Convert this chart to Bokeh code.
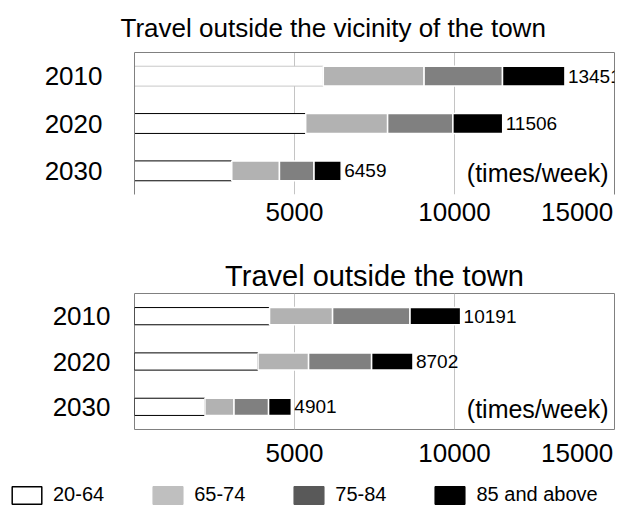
from bokeh.plotting import figure
from bokeh.models import (ColumnDataSource, FactorRange, Range1d, LinearAxis, CategoricalAxis,
                          Label, LabelSet, Legend, LegendItem, FixedTicker)
from bokeh.core.properties import value
from bokeh.layouts import column
from bokeh.transform import stack
from bokeh.embed import file_html
from bokeh.resources import INLINE

# ---------------- data ----------------
years = ["2010", "2020", "2030"]
age_groups = ["20-64", "65-74", "75-84", "85 and above"]

vicinity_20_64 = [5900, 5350, 3040]
vicinity_65_74 = [3150, 2560, 1490]
vicinity_75_84 = [2450, 2040, 1080]
vicinity_85_up = [1951, 1556, 849]
vicinity_total = [13451, 11506, 6459]

town_20_64 = [4220, 3860, 2200]
town_65_74 = [1970, 1580, 910]
town_75_84 = [2420, 1970, 1080]
town_85_up = [1581, 1292, 711]
town_total = [10191, 8702, 4901]

x_ticks = [5000, 10000, 15000]
x_max = 15000
unit_text = "(times/week)"

FONT = "Liberation Sans"
BAR_FILLS = ["#ffffff", "#b2b2b2", "#808080", "#000000"]
LEGEND_FILLS = ["#ffffff", "#bfbfbf", "#595959", "#000000"]
FRAME = "#808080"
GRID = "#c4c4c4"
NBSP = "\u00a0"
W = 620


def build(title, layers, totals, white_edges, height, mb_top, mb_bottom, mb_left, mb_right,
          bar_h, boxed, tick_standoff, year_standoff, title_align, title_offset, title_standoff,
          title_size):
    keys = ["a", "b", "c", "d"]
    data = dict(year=years, total=totals, label=[str(t) for t in totals], edge=white_edges)
    for k, v in zip(keys, layers):
        data[k] = v
    src = ColumnDataSource(data)

    p = figure(width=W, height=height, title=title,
               y_range=FactorRange(factors=years[::-1]), x_range=Range1d(0, x_max),
               output_backend="svg", toolbar_location=None,
               min_border_top=mb_top, min_border_bottom=mb_bottom,
               min_border_left=mb_left, min_border_right=mb_right)
    p.title.text_font = FONT
    p.title.text_font_size = title_size
    p.title.text_font_style = "normal"
    p.title.text_color = "black"
    p.title.align = title_align
    p.title.offset = title_offset
    p.title.standoff = title_standoff

    for i, k in enumerate(keys):
        left = stack(*keys[:i]) if i else 0
        if i == 0:
            p.hbar(y="year", left=left, right=stack(*keys[:i + 1]), height=bar_h, source=src,
                   fill_color=BAR_FILLS[i], line_color="edge", line_width=1)
        else:
            p.hbar(y="year", left=left, right=stack(*keys[:i + 1]), height=bar_h, source=src,
                   fill_color=BAR_FILLS[i], line_color="white", line_width=1.5)

    p.add_layout(LabelSet(x="total", y="year", text="label", source=src, x_offset=3,
                          text_baseline="middle", text_align="left", text_font=value(FONT),
                          text_font_size="19px", text_color="black"))

    xa = p.xaxis[0]
    xa.ticker = FixedTicker(ticks=x_ticks)
    # last label is kept inside the right edge, as in the original
    xa.major_label_overrides = {x_max: str(x_max) + NBSP}
    xa.major_tick_line_color = None
    xa.major_tick_out = 0
    xa.major_tick_in = 0
    xa.minor_tick_line_color = None
    xa.major_label_text_font = FONT
    xa.major_label_text_font_size = "26px"
    xa.major_label_text_color = "black"
    xa.major_label_standoff = tick_standoff
    xa.axis_line_color = None

    ya = p.yaxis[0]
    ya.major_tick_line_color = None
    ya.major_tick_out = 0
    ya.major_tick_in = 0
    ya.major_label_text_font = FONT
    ya.major_label_text_font_size = "26px"
    ya.major_label_text_color = "black"
    ya.major_label_standoff = year_standoff
    ya.axis_line_color = FRAME if not boxed else None

    p.xgrid.ticker = FixedTicker(ticks=x_ticks)
    p.xgrid.grid_line_color = GRID
    p.ygrid.grid_line_color = None

    if boxed:
        p.outline_line_color = FRAME
        p.outline_line_alpha = 1.0
    else:
        p.outline_line_color = None
        top = LinearAxis(ticker=FixedTicker(ticks=[]), axis_line_color=FRAME,
                         major_tick_line_color=None, minor_tick_line_color=None,
                         major_tick_out=0, major_tick_in=0,
                         major_label_text_font_size="0px", major_label_standoff=0)
        p.add_layout(top, "above")
        right = CategoricalAxis(axis_line_color=FRAME, major_tick_line_color=None,
                                major_tick_out=0, major_tick_in=0,
                                major_label_text_font_size="0px", major_label_standoff=0,
                                major_label_text_color=None)
        p.add_layout(right, "right")

    p.add_layout(Label(x=x_max, y=0.5, text=unit_text, text_align="right", text_baseline="middle",
                       x_offset=-6, y_offset=-2, text_font=FONT, text_font_size="25px",
                       text_color="black"))
    return p


p1 = build("Travel outside the vicinity of the town",
           [vicinity_20_64, vicinity_65_74, vicinity_75_84, vicinity_85_up], vicinity_total,
           ["#c8c8c8", "#000000", "#000000"],
           height=245, mb_top=52, mb_bottom=51, mb_left=134, mb_right=6,
           bar_h=0.42, boxed=False, tick_standoff=2, year_standoff=32,
           title_align="left", title_offset=-14, title_standoff=19, title_size="26px")

p2 = build("Travel outside the town",
           [town_20_64, town_65_74, town_75_84, town_85_up], town_total,
           ["#000000", "#000000", "#000000"],
           height=225, mb_top=48, mb_bottom=39, mb_left=134, mb_right=6,
           bar_h=0.38, boxed=True, tick_standoff=8, year_standoff=24,
           title_align="center", title_offset=0, title_standoff=3, title_size="29px")

# legend strip
p3 = figure(width=W, height=38, x_range=Range1d(0, 1), y_range=Range1d(0, 1),
            x_axis_type=None, y_axis_type=None,
            output_backend="svg", toolbar_location=None, min_border=0,
            min_border_left=0, min_border_right=0, min_border_top=0, min_border_bottom=0)
p3.grid.visible = False
p3.outline_line_color = None
items = []
for i, g in enumerate(age_groups):
    r = p3.hbar(y=[0], left=[0], right=[0], height=0, fill_color=LEGEND_FILLS[i],
                line_color="black" if i == 0 else LEGEND_FILLS[i], line_width=1.5)
    items.append(LegendItem(label=g, renderers=[r]))
leg = Legend(items=items, orientation="horizontal", location=(8, 2), glyph_width=37,
             glyph_height=22, label_standoff=8, spacing=45, padding=0, margin=0,
             border_line_color=None, background_fill_alpha=0,
             label_text_font=FONT, label_text_font_size="20px", label_text_color="black")
p3.add_layout(leg, "center")

layout = column(column(p1, p2, spacing=0), p3, spacing=0)
open("out.html", "w").write(file_html(layout, INLINE))
